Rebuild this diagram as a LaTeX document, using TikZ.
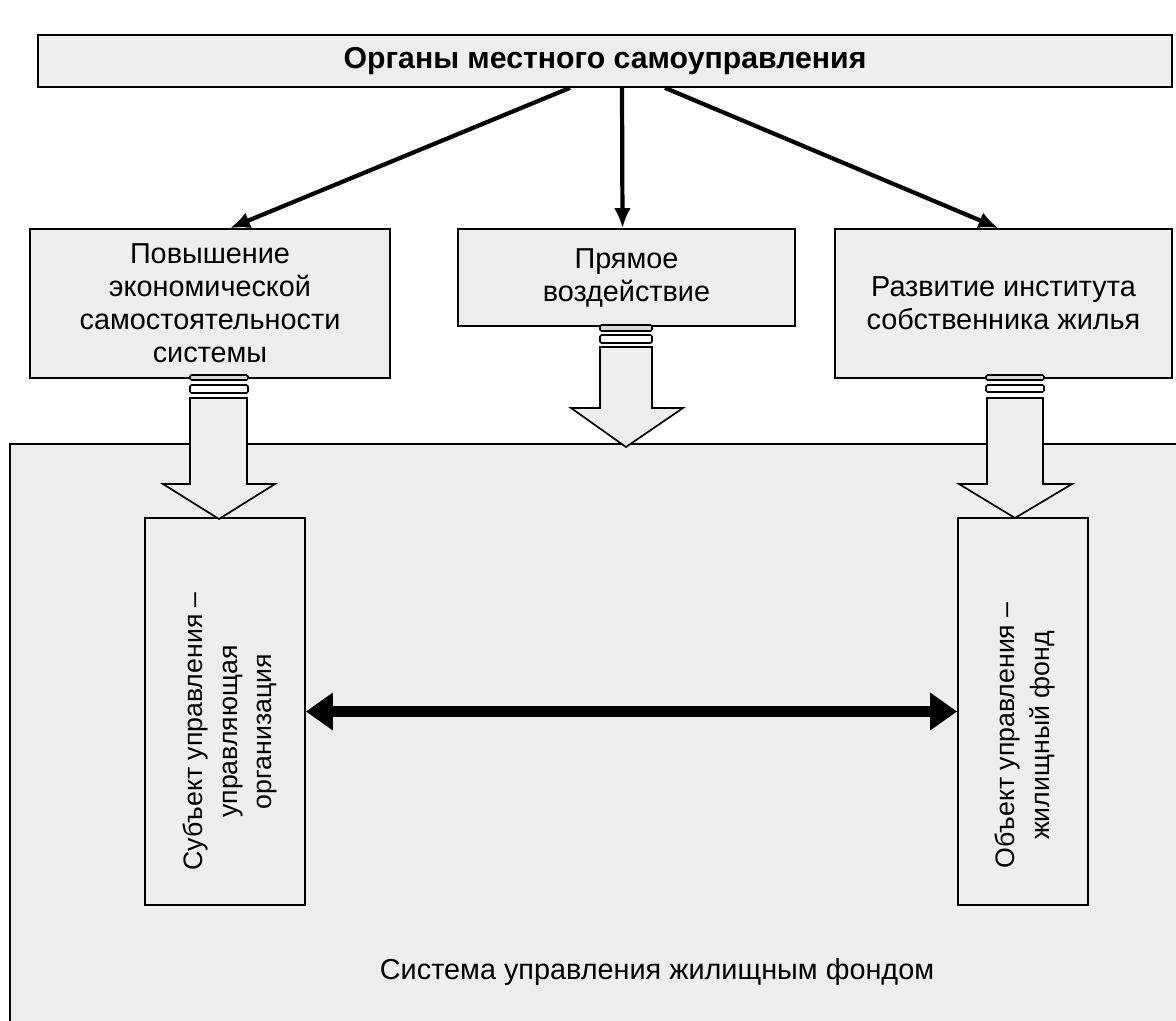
\documentclass[tikz,border=0pt]{standalone}
\usepackage{fontspec}
\setmainfont{Liberation Sans}
\usepackage{xcolor}
\usepackage{tikz}
\usetikzlibrary{arrows.meta, positioning, calc}

\definecolor{boxgray}{HTML}{EEEEEE}
\definecolor{stripegray}{HTML}{D6D6D6}

\begin{document}
\begin{tikzpicture}[
  x=0.025cm, y=-0.025cm,
  box/.style={draw, fill=boxgray, line width=1.2pt, align=center, inner sep=0pt,
    font=\fontsize{20.5}{23.5}\selectfont},
  vlabel/.style={rotate=90, align=center, font=\fontsize{19}{24.5}\selectfont},
  edge/.style={line width=3pt, -{Latex[length=5mm,width=4.2mm]}},
  both/.style={line width=8.5pt, {Triangle[length=6.75mm,width=9mm]}-{Triangle[length=6.75mm,width=9mm]}},
  blockarrow/.style={draw, fill=boxgray, line width=1.2pt, line join=miter},
  stripe/.style={draw, line width=1.1pt, rounded corners=1pt}
]
\useasboundingbox (0,0) rectangle (1176,1020);

% system frame
\draw[box] (10,444) rectangle (1200,1050);
\node[font=\fontsize{20.5}{23.5}\selectfont] (syslabel) at (657,972) {Система управления жилищным фондом};

% boxes
\node[box, minimum width=28.35cm, minimum height=1.3cm, font=\bfseries\fontsize{21.5}{23.5}\selectfont] (organs) at (605,61) {Органы местного самоуправления};
\node[box, minimum width=9cm, minimum height=3.725cm] (econ) at (210,303.5) {Повышение\\экономической\\самостоятельности\\системы};
\node[box, minimum width=8.425cm, minimum height=2.425cm] (direct) at (626.5,277.5) {Прямое\\воздействие};
\node[box, minimum width=8.425cm, minimum height=3.725cm] (owner) at (1003.5,303.5) {Развитие института\\собственника жилья};

\node[box, minimum width=4cm, minimum height=9.675cm] (subj) at (225,711.5) {};
\node[vlabel] (subjtext) at ($(subj)+(5,20)$) {Субъект управления –\\управляющая\\организация};
\node[box, minimum width=3.25cm, minimum height=9.675cm] (obj) at (1023,711.5) {};
\node[vlabel] (objtext) at ($(obj)+(2,24)$) {Объект управления –\\жилищный фонд};

% arrows from the top
\draw[edge] ($(organs.south)+(-35,0)$) -- ($(econ.north)+(20,0)$);
\draw[edge] ($(organs.south)+(17,0)$) -- ($(direct.north)+(-4,0)$);
\draw[edge] ($(organs.south)+(60,0)$) -- ($(owner.north)+(-5,0)$);

% block arrows
\draw[stripe, fill=stripegray] (190,375) rectangle (248,380);
\draw[stripe, fill=white] (190,385) rectangle (248,393);
\draw[blockarrow] (190,398) -- (190,484) -- (163,484) -- (219,519) -- (275,484) -- (247,484) -- (247,398) -- cycle;

\draw[stripe, fill=stripegray] (600,325) rectangle (652,331);
\draw[stripe, fill=white] (600,335) rectangle (652,343);
\draw[blockarrow] (600,347) -- (600,408) -- (571,408) -- (626,447) -- (683,408) -- (652,408) -- (652,347) -- cycle;

\draw[stripe, fill=stripegray] (986,375) rectangle (1044,380);
\draw[stripe, fill=white] (986,385) rectangle (1044,392);
\draw[blockarrow] (987,398) -- (987,484) -- (959,484) -- (1015,518) -- (1072,484) -- (1043,484) -- (1043,398) -- cycle;

% interaction
\draw[both] (subj.east) -- (obj.west);
\end{tikzpicture}
\end{document}
